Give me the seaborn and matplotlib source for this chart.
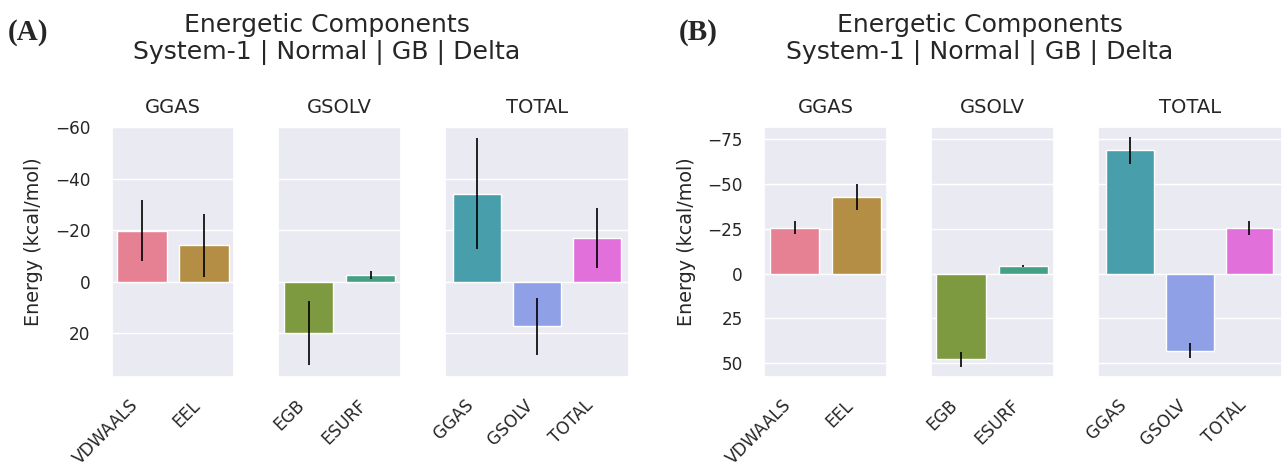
import matplotlib
matplotlib.use("Agg")
import matplotlib.pyplot as plt
import seaborn as sns
import pandas as pd

# componentes por grupo
grupos = ["GGAS", "GSOLV", "TOTAL"]
comp_ggas = ["VDWAALS", "EEL"]
comp_gsolv = ["EGB", "ESURF"]
comp_total = ["GGAS", "GSOLV", "TOTAL"]
todos = comp_ggas + comp_gsolv + comp_total

# (A) medias y desviaciones (kcal/mol)
a_ggas = [-19.8, -14.2]
a_ggas_sd = [11.8, 12.3]
a_gsolv = [20.0, -2.6]
a_gsolv_sd = [12.4, 1.5]
a_total = [-34.3, 17.3, -17.0]
a_total_sd = [21.7, 11.2, 11.8]

# (B)
b_ggas = [-25.6, -42.6]
b_ggas_sd = [3.7, 7.4]
b_gsolv = [47.7, -4.1]
b_gsolv_sd = [4.2, 0.4]
b_total = [-68.5, 43.0, -25.5]
b_total_sd = [7.4, 4.2, 3.9]

a_ticks = [-60, -40, -20, 0, 20]
b_ticks = [-75, -50, -25, 0, 25, 50]
a_lim = (36.8, -60.3)
b_lim = (57.4, -81.8)

titulo = "Energetic Components\nSystem-1 | Normal | GB | Delta"

sns.set_theme(style="darkgrid")
paleta = dict(zip(todos, sns.color_palette("husl", len(todos))))

fig = plt.figure(figsize=(12.86, 4.66), dpi=100)


def panel(left, right, datos, ticks, lim, letra, xc, xletra):
    gs = fig.add_gridspec(1, 3, width_ratios=[2, 2, 3], left=left, right=right,
                          bottom=0.1916, top=0.7285, wspace=0.306)
    ax0 = None
    for i, (grupo, (cats, vals, sds)) in enumerate(zip(grupos, datos)):
        ax = fig.add_subplot(gs[0, i], sharey=ax0)
        if ax0 is None:
            ax0 = ax
        df = pd.DataFrame({"comp": cats, "energia": vals})
        sns.barplot(data=df, x="comp", y="energia", hue="comp", palette=paleta,
                    errorbar=None, legend=False, edgecolor="white", linewidth=1, ax=ax)
        ax.errorbar(range(len(cats)), vals, yerr=sds, fmt="none", ecolor="black",
                    elinewidth=1.2, capsize=0)
        ax.set_title(grupo, fontsize=14, pad=10)
        ax.set_xlabel("")
        ax.tick_params(axis="x", labelsize=12.2, pad=8)
        ax.tick_params(axis="y", labelsize=12.2, pad=9.4)
        plt.setp(ax.get_xticklabels(), rotation=45, ha="right")
        if i == 0:
            ax.set_ylabel("Energy (kcal/mol)", fontsize=13.8)
            ax.yaxis.set_label_coords(-0.559, 0.54)
        else:
            ax.set_ylabel("")
            ax.tick_params(axis="y", labelleft=False)
    ax0.set_yticks(ticks)
    ax0.set_ylim(*lim)
    fig.text(xc, 0.972, titulo, ha="center", va="top", fontsize=18.1,
             linespacing=1.13, color=".15")
    fig.text(xletra, 0.93, letra, ha="left", va="center",
             fontsize=21, fontweight="bold", family="Liberation Serif")


panel(0.0869, 0.4891, [(comp_ggas, a_ggas, a_ggas_sd),
                       (comp_gsolv, a_gsolv, a_gsolv_sd),
                       (comp_total, a_total, a_total_sd)], a_ticks, a_lim, "(A)", 0.254, 0.006)
panel(0.5943, 0.9967, [(comp_ggas, b_ggas, b_ggas_sd),
                       (comp_gsolv, b_gsolv, b_gsolv_sd),
                       (comp_total, b_total, b_total_sd)], b_ticks, b_lim, "(B)", 0.762, 0.528)

fig.savefig("out.png", dpi=100)
